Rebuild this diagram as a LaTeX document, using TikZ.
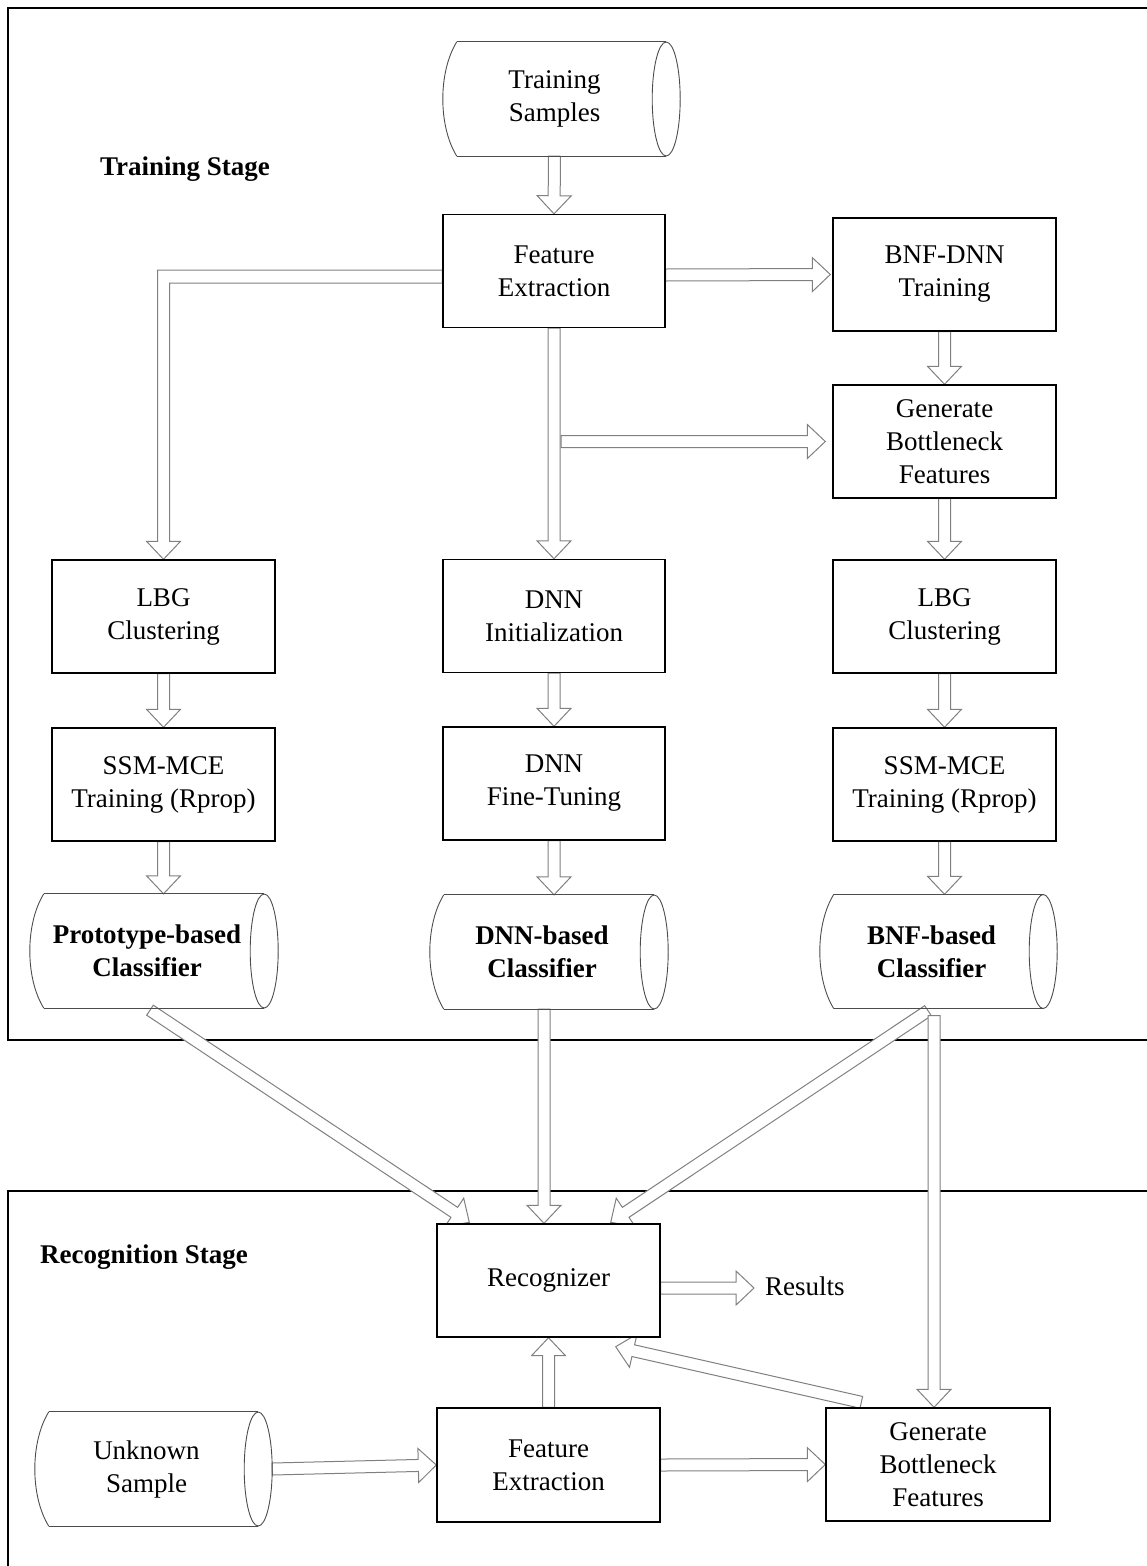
\documentclass[tikz,border=0pt]{standalone}
\usepackage{fontspec}
\setmainfont{Liberation Serif}
\usetikzlibrary{calc}
\pgfdeclarelayer{bg}
\pgfsetlayers{bg,main}
\newcommand\barrow[2]{%
  \path (#1) coordinate (ba-a) (#2) coordinate (ba-b);
  \path ($(ba-b)!18pt!(ba-a)$) coordinate (ba-h);
  \draw[arrowline] ($(ba-a)!6pt!90:(ba-b)$) -- ($(ba-h)!6pt!90:(ba-b)$) -- ($(ba-h)!17pt!90:(ba-b)$) -- (ba-b)
    -- ($(ba-h)!17pt!-90:(ba-b)$) -- ($(ba-h)!6pt!-90:(ba-b)$) -- ($(ba-a)!6pt!-90:(ba-b)$) -- cycle;}
\newcommand\cylshape[1]{%
  \draw[cylline] ($(#1.north west)+(14,0)$) -- (#1.north east);
  \draw[cylline] ($(#1.south west)+(14,0)$) -- (#1.south east);
  \draw[cylline] ($(#1.north west)+(14,0)$) .. controls ($(#1.north west)+(-4.67,30)$) and ($(#1.south west)+(-4.67,-30)$) .. ($(#1.south west)+(14,0)$);
  \draw[cylline] (#1.east) ellipse [x radius=14, y radius=57];}
\begin{document}
\begin{tikzpicture}[x=1pt,y=-1pt,
  txt/.style={font=\fontsize{27}{33}\selectfont},
  box/.style={txt,draw=black,line width=1.4pt,fill=white,minimum width=222pt,minimum height=113pt,inner sep=0pt,align=center},
  cyl/.style={txt,minimum height=114pt,inner sep=0pt,align=center},
  bcyl/.style={cyl,font=\fontsize{27}{33}\selectfont\bfseries},
  lbl/.style={inner sep=0pt,font=\fontsize{27}{33}\selectfont\bfseries},
  frame/.style={draw=black,line width=2.2pt},
  arrowline/.style={draw=black!50,line width=1pt,fill=white,line join=miter},
  cylline/.style={draw=black!70,line width=0.9pt}]
\useasboundingbox (0,0) rectangle (1146,1566);
\clip (0,0) rectangle (1146,1566);

% nodes
\node[cyl,minimum width=223pt] (ts) at (554.5,99) {Training\\Samples};
\node[box] (fe) at (554,271) {Feature\\Extraction};
\node[box,minimum width=223pt] (bnfdnn) at (944.5,274.5) {BNF-DNN\\Training};
\node[box,minimum width=223pt] (gbf1) at (944.5,441.5) {Generate\\Bottleneck\\Features};
\node[box,minimum width=223pt] (lbg1) at (163.5,616.5) {LBG\\Clustering};
\node[box] (dnn1) at (554,616) {DNN\\Initialization};
\node[box,minimum width=223pt] (lbg2) at (944.5,616.5) {LBG\\Clustering};
\node[box,minimum width=223pt] (ssm1) at (163.5,784.5) {SSM-MCE\\Training (Rprop)};
\node[box] (dnn2) at (554,783.5) {DNN\\Fine-Tuning};
\node[box,minimum width=223pt] (ssm2) at (944.5,784.5) {SSM-MCE\\Training (Rprop)};
\node[bcyl,minimum width=234pt] (proto) at (147,951) {Prototype-based\\Classifier};
\node[bcyl,minimum width=224pt] (dnnc) at (542,952) {DNN-based\\Classifier};
\node[bcyl,minimum width=223pt] (bnfc) at (931.5,951.5) {BNF-based\\Classifier};
\node[box,minimum width=223pt] (rec) at (548.5,1280.5) {Recognizer};
\node[box,minimum width=223pt,minimum height=114pt] (fe2) at (548.5,1465) {Feature\\Extraction};
\node[box,minimum width=224pt] (gbf2) at (938,1464.5) {Generate\\Bottleneck\\Features};
\node[cyl,minimum width=223pt] (unk) at (146.5,1469) {Unknown\\Sample};
\node[lbl,anchor=base west] (tstage) at (100,175) {Training Stage};
\node[lbl,anchor=base west] (rstage) at (40,1263) {Recognition Stage};
\node[txt,inner sep=0pt,anchor=base west] (res) at (765,1295) {Results};

\cylshape{ts}
\cylshape{proto}
\cylshape{dnnc}
\cylshape{bnfc}
\cylshape{unk}

\begin{pgfonlayer}{bg}
\draw[frame] (8,8) rectangle (1170,1040);
\draw[frame] (8,1191) rectangle (1170,1590);

% training stage arrows
\barrow{ts.south}{fe.north}
\coordinate (la) at ($(fe.west)+(0,-1)$);
\coordinate (lb) at ($(fe.west)+(0,12)$);
\coordinate (lc) at ($(lbg1.north)+(0,-18)$);
\coordinate (lo) at ($(lbg1.north)+(-6,0)$);
\coordinate (li) at ($(lbg1.north)+(6,0)$);
\coordinate (lwo) at ($(lbg1.north)+(-17,0)$);
\coordinate (lwi) at ($(lbg1.north)+(17,0)$);
\draw[arrowline] (la) -- (la -| lo) -- (lc -| lo) -- (lc -| lwo) -- (lbg1.north) -- (lc -| lwi) -- (lc -| li) -- (lb -| li) -- (lb) -- cycle;
\coordinate (a3) at ($(fe.east)+(0,4)$);
\coordinate (b3) at ($(bnfdnn.west)+(-2,0)$);
\barrow{a3}{b3}
\barrow{bnfdnn.south}{gbf1.north}
\barrow{fe.south}{dnn1.north}
\coordinate (br) at ($(fe.south |- gbf1.west)+(7,0)$);
\coordinate (bt) at ($(gbf1.west)+(-7,0)$);
\barrow{br}{bt}
\barrow{gbf1.south}{lbg2.north}
\barrow{lbg1.south}{ssm1.north}
\barrow{ssm1.south}{ssm1.south |- proto.north}
\barrow{dnn1.south}{dnn2.north}
\barrow{dnn2.south}{dnn2.south |- dnnc.north}
\barrow{lbg2.south}{ssm2.north}
\barrow{ssm2.south}{ssm2.south |- bnfc.north}

% to recognizer
\coordinate (p1) at ($(proto.south)+(3,2)$);
\coordinate (p2) at ($(rec.north west)+(33,-1)$);
\barrow{p1}{p2}
\coordinate (d1) at ($(dnnc.south)+(2,0)$);
\barrow{d1}{d1 |- rec.north}
\coordinate (q1) at ($(bnfc.south)+(-3.5,2)$);
\coordinate (q2) at ($(rec.north east)+(-50,-1)$);
\barrow{q1}{q2}
\coordinate (v1) at ($(bnfc.south)+(2.5,7)$);
\barrow{v1}{v1 |- gbf2.north}

% recognition stage arrows
\coordinate (r1) at ($(rec.east)+(0,7.5)$);
\coordinate (r2) at ($(res.west |- r1)+(-11,0)$);
\barrow{r1}{r2}
\barrow{fe2.north}{rec.south}
\coordinate (u1) at ($(unk.east)+(14,0)$);
\barrow{u1}{fe2.west}
\barrow{fe2.east}{gbf2.west}
\coordinate (g1) at ($(gbf2.north west)+(36,-5)$);
\coordinate (g2) at ($(rec.south east)+(-45,9)$);
\barrow{g1}{g2}
\end{pgfonlayer}
\end{tikzpicture}
\end{document}
